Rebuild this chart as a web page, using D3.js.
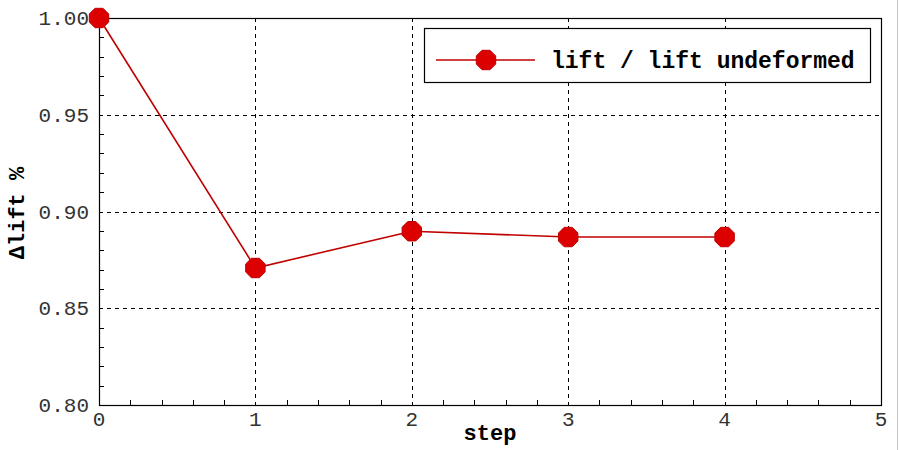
<!DOCTYPE html>
<html><head><meta charset="utf-8">
<script src="https://cdn.jsdelivr.net/npm/d3@7"></script>
<style>body{margin:0;background:#fff;} svg{display:block;}</style>
</head><body>
<script>
const steps = [0, 1, 2, 3, 4];
const liftRatio = [1.000, 0.8708, 0.8898, 0.8868, 0.8868];
const xTicks = [0, 1, 2, 3, 4, 5];
const yTicks = [0.80, 0.85, 0.90, 0.95, 1.00];
const yTickLabels = ["0.80", "0.85", "0.90", "0.95", "1.00"];
const seriesName = "lift / lift undeformed";

const W = 900, H = 450;
const m = {l: 99, r: 881, t: 18, b: 405};
const svg = d3.select("body").append("svg").attr("width", W).attr("height", H);
const x = d3.scaleLinear().domain([0, 5]).range([m.l, m.r]);
const y = d3.scaleLinear().domain([0.80, 1.00]).range([m.b, m.t]);

// right-edge gray line
svg.append("line").attr("x1", 897.5).attr("x2", 897.5).attr("y1", 0).attr("y2", H)
  .attr("stroke", "#c8c8c8").attr("stroke-width", 1);

const g = svg.append("g");
// grid
g.selectAll(".gx").data(xTicks.filter(d => d > 0 && d < 5)).join("line")
  .attr("x1", d => Math.round(x(d)) + 0.5).attr("x2", d => Math.round(x(d)) + 0.5)
  .attr("y1", m.t).attr("y2", m.b)
  .attr("stroke", "#000").attr("stroke-width", 1).attr("stroke-dasharray", "4,4");
g.selectAll(".gy").data(yTicks.filter(d => d > 0.801 && d < 0.999)).join("line")
  .attr("y1", d => Math.round(y(d)) + 0.5).attr("y2", d => Math.round(y(d)) + 0.5)
  .attr("x1", m.l).attr("x2", m.r)
  .attr("stroke", "#000").attr("stroke-width", 1).attr("stroke-dasharray", "4,4");

// minor ticks
const xMinor = d3.range(0, 5.0001, 0.2).filter(v => Math.abs(v - Math.round(v)) > 1e-6);
g.selectAll(".mx").data(xMinor).join("line")
  .attr("x1", d => Math.round(x(d)) + 0.5).attr("x2", d => Math.round(x(d)) + 0.5)
  .attr("y1", m.b).attr("y2", m.b - 5).attr("stroke", "#000");
const yMinor = d3.range(0.80, 1.0001, 0.01).filter(v => Math.abs(v * 20 - Math.round(v * 20)) > 1e-6);
g.selectAll(".my").data(yMinor).join("line")
  .attr("y1", d => Math.round(y(d)) + 0.5).attr("y2", d => Math.round(y(d)) + 0.5)
  .attr("x1", m.l).attr("x2", m.l + 5).attr("stroke", "#000");

// frame
g.append("rect").attr("x", m.l + 0.5).attr("y", m.t + 0.5)
  .attr("width", m.r - m.l).attr("height", m.b - m.t)
  .attr("fill", "none").attr("stroke", "#000").attr("stroke-width", 1.2);

// axes labels
const tickFont = "'Liberation Mono', 'DejaVu Sans Mono', monospace";
g.selectAll(".xl").data(xTicks).join("text")
  .attr("x", d => x(d)).attr("y", 426).attr("text-anchor", "middle")
  .attr("font-family", tickFont).attr("font-size", 21).attr("fill", "#333")
  .text(d => d);
g.selectAll(".yl").data(yTicks).join("text")
  .attr("x", 89).attr("y", d => y(d) + 7).attr("text-anchor", "end")
  .attr("font-family", tickFont).attr("font-size", 21).attr("fill", "#333")
  .text((d, i) => yTickLabels[i]);

svg.append("text").attr("x", 490).attr("y", 440).attr("text-anchor", "middle")
  .attr("font-family", tickFont).attr("font-weight", "bold").attr("font-size", 22)
  .text("step");
svg.append("text").attr("transform", "translate(24,213) rotate(-90)").attr("text-anchor", "middle")
  .attr("font-family", tickFont).attr("font-weight", "bold").attr("font-size", 22)
  .text("Δlift %");

// series
const pts = steps.map((s, i) => [s, liftRatio[i]]);
const line = d3.line().x(d => x(d[0])).y(d => y(d[1]));
g.append("path").attr("d", line(pts)).attr("fill", "none").attr("stroke", "#c00000").attr("stroke-width", 1.6);

function octagon(r) {
  const a = [];
  for (let k = 0; k < 8; k++) {
    const t = Math.PI / 8 + k * Math.PI / 4;
    a.push([r * Math.cos(t), r * Math.sin(t)]);
  }
  return "M" + a.map(p => p.join(",")).join("L") + "Z";
}
g.selectAll(".pt").data(pts).join("path")
  .attr("transform", d => `translate(${x(d[0])},${y(d[1])})`)
  .attr("d", octagon(10.5)).attr("fill", "#dd0000").attr("stroke", "#c00000").attr("stroke-width", 1);

// legend
const lg = svg.append("g");
lg.append("rect").attr("x", 424.5).attr("y", 28.5).attr("width", 446).attr("height", 54)
  .attr("fill", "#fff").attr("stroke", "#000").attr("stroke-width", 1.2);
lg.append("line").attr("x1", 436).attr("x2", 535).attr("y1", 60).attr("y2", 60)
  .attr("stroke", "#c00000").attr("stroke-width", 1.6);
lg.append("path").attr("transform", "translate(486,60)").attr("d", octagon(10.5))
  .attr("fill", "#dd0000").attr("stroke", "#c00000");
lg.append("text").attr("x", 551).attr("y", 68)
  .attr("font-family", tickFont).attr("font-weight", "bold").attr("font-size", 23)
  .text(seriesName);
</script>
</body></html>
